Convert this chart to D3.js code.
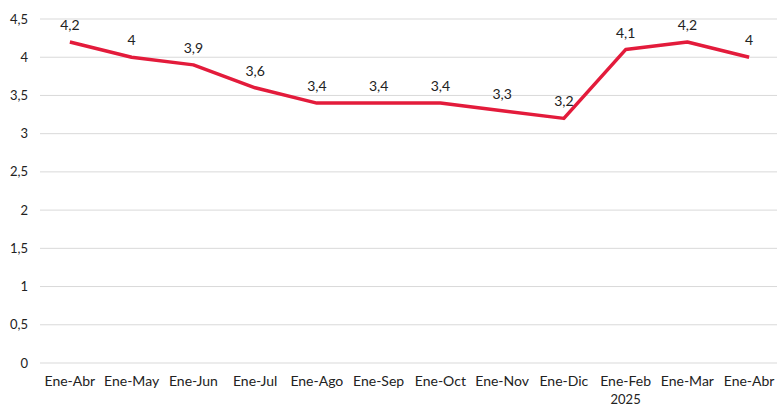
<!DOCTYPE html>
<html><head><meta charset="utf-8">
<script src="https://cdn.jsdelivr.net/npm/d3@7"></script>
<style>body{margin:0;background:#fff}svg{display:block}text{font-family:Lato,"Open Sans",sans-serif}</style>
</head><body><svg id="c" width="777" height="408"></svg>
<script>
const categories = ["Ene-Abr","Ene-May","Ene-Jun","Ene-Jul","Ene-Ago","Ene-Sep","Ene-Oct","Ene-Nov","Ene-Dic","Ene-Feb","Ene-Mar","Ene-Abr"];
const subLabels = ["","","","","","","","","","2025","",""];
const values = [4.2,4.0,3.9,3.6,3.4,3.4,3.4,3.3,3.2,4.1,4.2,4.0];
const yTicks = [0,0.5,1,1.5,2,2.5,3,3.5,4,4.5];

const svg = d3.select("#c");
const loc = d3.formatLocale({decimal:",",thousands:".",grouping:[3],currency:["","€"]});
const fmt = v => loc.format("~g")(v);
const keys = categories.map((c,i)=>i);
const x = d3.scaleBand().domain(keys).range([39,780]);
const y = d3.scaleLinear().domain([0,4.5]).range([363,19]);

svg.append("g").selectAll("line").data(yTicks).join("line")
  .attr("x1",40).attr("x2",777).attr("y1",d=>y(d)).attr("y2",d=>y(d))
  .attr("stroke","#d9d9d9").attr("stroke-width",1);
svg.append("g").selectAll("text").data(yTicks).join("text")
  .attr("x",28).attr("y",d=>y(d)).attr("dy","0.35em").attr("text-anchor","end")
  .attr("font-size",13).attr("fill","#222").text(d=>fmt(d));

const cx = i => x(i)+x.bandwidth()/2;
const xl = svg.append("g");
xl.selectAll("text.c").data(keys).join("text").attr("class","c")
  .attr("x",cx).attr("y",386).attr("text-anchor","middle").attr("font-size",14).attr("fill","#222")
  .text(i=>categories[i]);
xl.selectAll("text.s").data(keys.filter(i=>subLabels[i])).join("text").attr("class","s")
  .attr("x",cx).attr("y",404).attr("text-anchor","middle").attr("font-size",13).attr("fill","#222")
  .text(i=>subLabels[i]);

svg.append("path").datum(keys)
  .attr("fill","none").attr("stroke","#e31b3b").attr("stroke-width",3.5).attr("stroke-linejoin","round")
  .attr("d",d3.line().x(cx).y(i=>y(values[i])));

svg.append("g").selectAll("text").data(keys).join("text")
  .attr("x",cx).attr("y",i=>y(values[i])-12).attr("text-anchor","middle")
  .attr("font-size",14).attr("fill","#222").text(i=>fmt(values[i]));
</script></body></html>
